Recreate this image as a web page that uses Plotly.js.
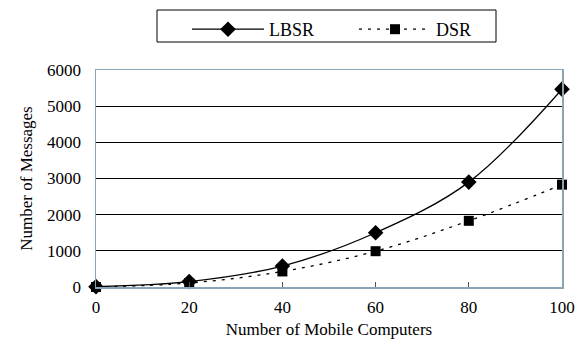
<!DOCTYPE html>
<html>
<head>
<meta charset="utf-8">
<script src="https://cdn.plot.ly/plotly-3.0.1.min.js"></script>
<style>body{margin:0;padding:0;background:#fff}#chart{width:576px;height:345px}</style>
</head>
<body>
<div id="chart"></div>
<script>
const mobileComputers = [0, 20, 40, 60, 80, 100];
const lbsrMessages = [10, 150, 580, 1500, 2900, 5470];
const dsrMessages = [0, 110, 430, 990, 1830, 2830];
const seriesNames = ['LBSR', 'DSR'];

const FONT = "'Liberation Serif', 'Times New Roman', serif";
const AXIS_COLOR = '#8aa5b5';

const traces = [
  {
    x: mobileComputers, y: lbsrMessages, name: seriesNames[0],
    type: 'scatter', mode: 'lines+markers',
    line: {color: '#000', width: 1.3, shape: 'spline', smoothing: 1},
    marker: {symbol: 'diamond', size: 12, color: '#000'},
    cliponaxis: false
  },
  {
    x: mobileComputers, y: dsrMessages, name: seriesNames[1],
    type: 'scatter', mode: 'lines+markers',
    line: {color: '#000', width: 1.3, dash: '3px,6px', shape: 'spline', smoothing: 1},
    marker: {symbol: 'square', size: 10, color: '#000'},
    cliponaxis: false
  }
];

const layout = {
  width: 576, height: 345,
  margin: {l: 96, r: 14, t: 70, b: 58},
  paper_bgcolor: '#fff', plot_bgcolor: '#fff',
  font: {family: FONT, size: 15, color: '#000'},
  showlegend: true,
  legend: {
    orientation: 'h',
    xref: 'container', yref: 'container',
    x: 187/576, xanchor: 'left',
    y: 1 - 11/345, yanchor: 'top',
    borderwidth: 0,
    bgcolor: 'rgba(0,0,0,0)',
    font: {family: FONT, size: 18, color: '#000'},
    itemwidth: 72,
    entrywidth: 80,
    tracegroupgap: 0
  },
  shapes: [{
    type: 'rect', xref: 'paper', yref: 'paper',
    x0: (157 - 96) / 466, x1: (496 - 96) / 466,
    y0: (287 - 42) / 217, y1: (287 - 10) / 217,
    line: {color: '#000', width: 1}, fillcolor: 'rgba(0,0,0,0)', layer: 'below'
  }],
  xaxis: {
    range: [0, 100],
    tickvals: mobileComputers,
    ticktext: mobileComputers.map(String),
    ticks: 'inside', ticklen: 5, tickcolor: '#555', tickwidth: 1,
    showgrid: false, zeroline: false,
    showline: true, linecolor: AXIS_COLOR, linewidth: 1.5, mirror: true,
    tickfont: {family: FONT, size: 17, color: '#000'},
    ticklabelstandoff: 4,
    title: {text: 'Number of Mobile Computers', font: {family: FONT, size: 17, color: '#000'}, standoff: 7}
  },
  yaxis: {
    range: [0, 6000],
    tickvals: [0, 1000, 2000, 3000, 4000, 5000, 6000],
    ticks: '',
    showgrid: true, gridcolor: '#000', gridwidth: 1,
    zeroline: false,
    showline: true, linecolor: AXIS_COLOR, linewidth: 1.5, mirror: true,
    tickfont: {family: FONT, size: 17, color: '#000'},
    ticklabelstandoff: 10,
    title: {text: 'Number of Messages', font: {family: FONT, size: 17, color: '#000'}, standoff: 10}
  }
};

Plotly.newPlot('chart', traces, layout, {displayModeBar: false, staticPlot: true});
</script>
</body>
</html>
